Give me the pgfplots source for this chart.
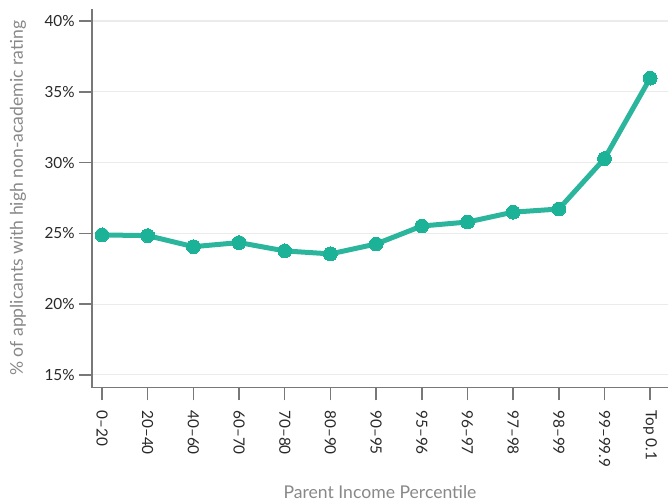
\documentclass[border=0pt]{standalone}
\usepackage{pgfplots}
\pgfplotsset{compat=1.18}
\usepackage{fontspec}
\setmainfont{Lato}
\definecolor{lineC}{RGB}{44,181,157}
\definecolor{markC}{RGB}{27,178,152}
\definecolor{axC}{RGB}{120,120,120}
\definecolor{gridC}{RGB}{235,235,235}
\definecolor{labC}{RGB}{136,136,136}
\definecolor{tickC}{RGB}{40,40,40}
\begin{document}
\begin{tikzpicture}
\useasboundingbox (-69pt,-85pt) rectangle (432pt,290.75pt);
\begin{axis}[
  at={(0,0)}, anchor=south west,
  scale only axis, width=432pt, height=284pt,
  xmin=-0.22, xmax=12.39,
  ymin=14.1, ymax=40.85,
  axis x line*=bottom, axis y line*=left,
  axis line style={color=axC, line width=1.1pt, -},
  tick align=outside,
  major tick length=9.5pt,
  tick style={color=axC, line width=1.1pt},
  xtick={0,...,12},
  xticklabels={0--20,20--40,40--60,60--70,70--80,80--90,90--95,95--96,96--97,97--98,98--99,99--99.9,Top 0.1},
  xticklabel style={rotate=-90, anchor=west, xshift=4pt, font=\fontsize{11.5}{13}\selectfont, color=tickC},
  ytick={15,20,25,30,35,40},
  yticklabel={\pgfmathprintnumber{\tick}\%},
  yticklabel style={font=\fontsize{11.5}{13}\selectfont, color=tickC},
  /pgf/number format/assume math mode=true,
  ymajorgrids, grid style={color=gridC, line width=0.8pt},
  xlabel={Parent Income Percentile},
  ylabel={\% of applicants with high non-academic rating},
  label style={font=\fontsize{13.2}{15}\selectfont, color=labC},
  xlabel style={at={(axis description cs:0.5,-0.2746)}, anchor=center},
  ylabel style={at={(axis description cs:-0.1285,0.5)}, anchor=center},
  clip=false,
]
\addplot[color=lineC, line width=3.75pt, mark=*, mark size=5.2pt,
  mark options={fill=markC, draw=markC, line width=0pt}]
coordinates {
(0,24.89) (1,24.84) (2,24.06) (3,24.35) (4,23.76) (5,23.55) (6,24.25)
(7,25.52) (8,25.80) (9,26.50) (10,26.72) (11,30.28) (12,35.97)
};
\end{axis}
\end{tikzpicture}
\end{document}
